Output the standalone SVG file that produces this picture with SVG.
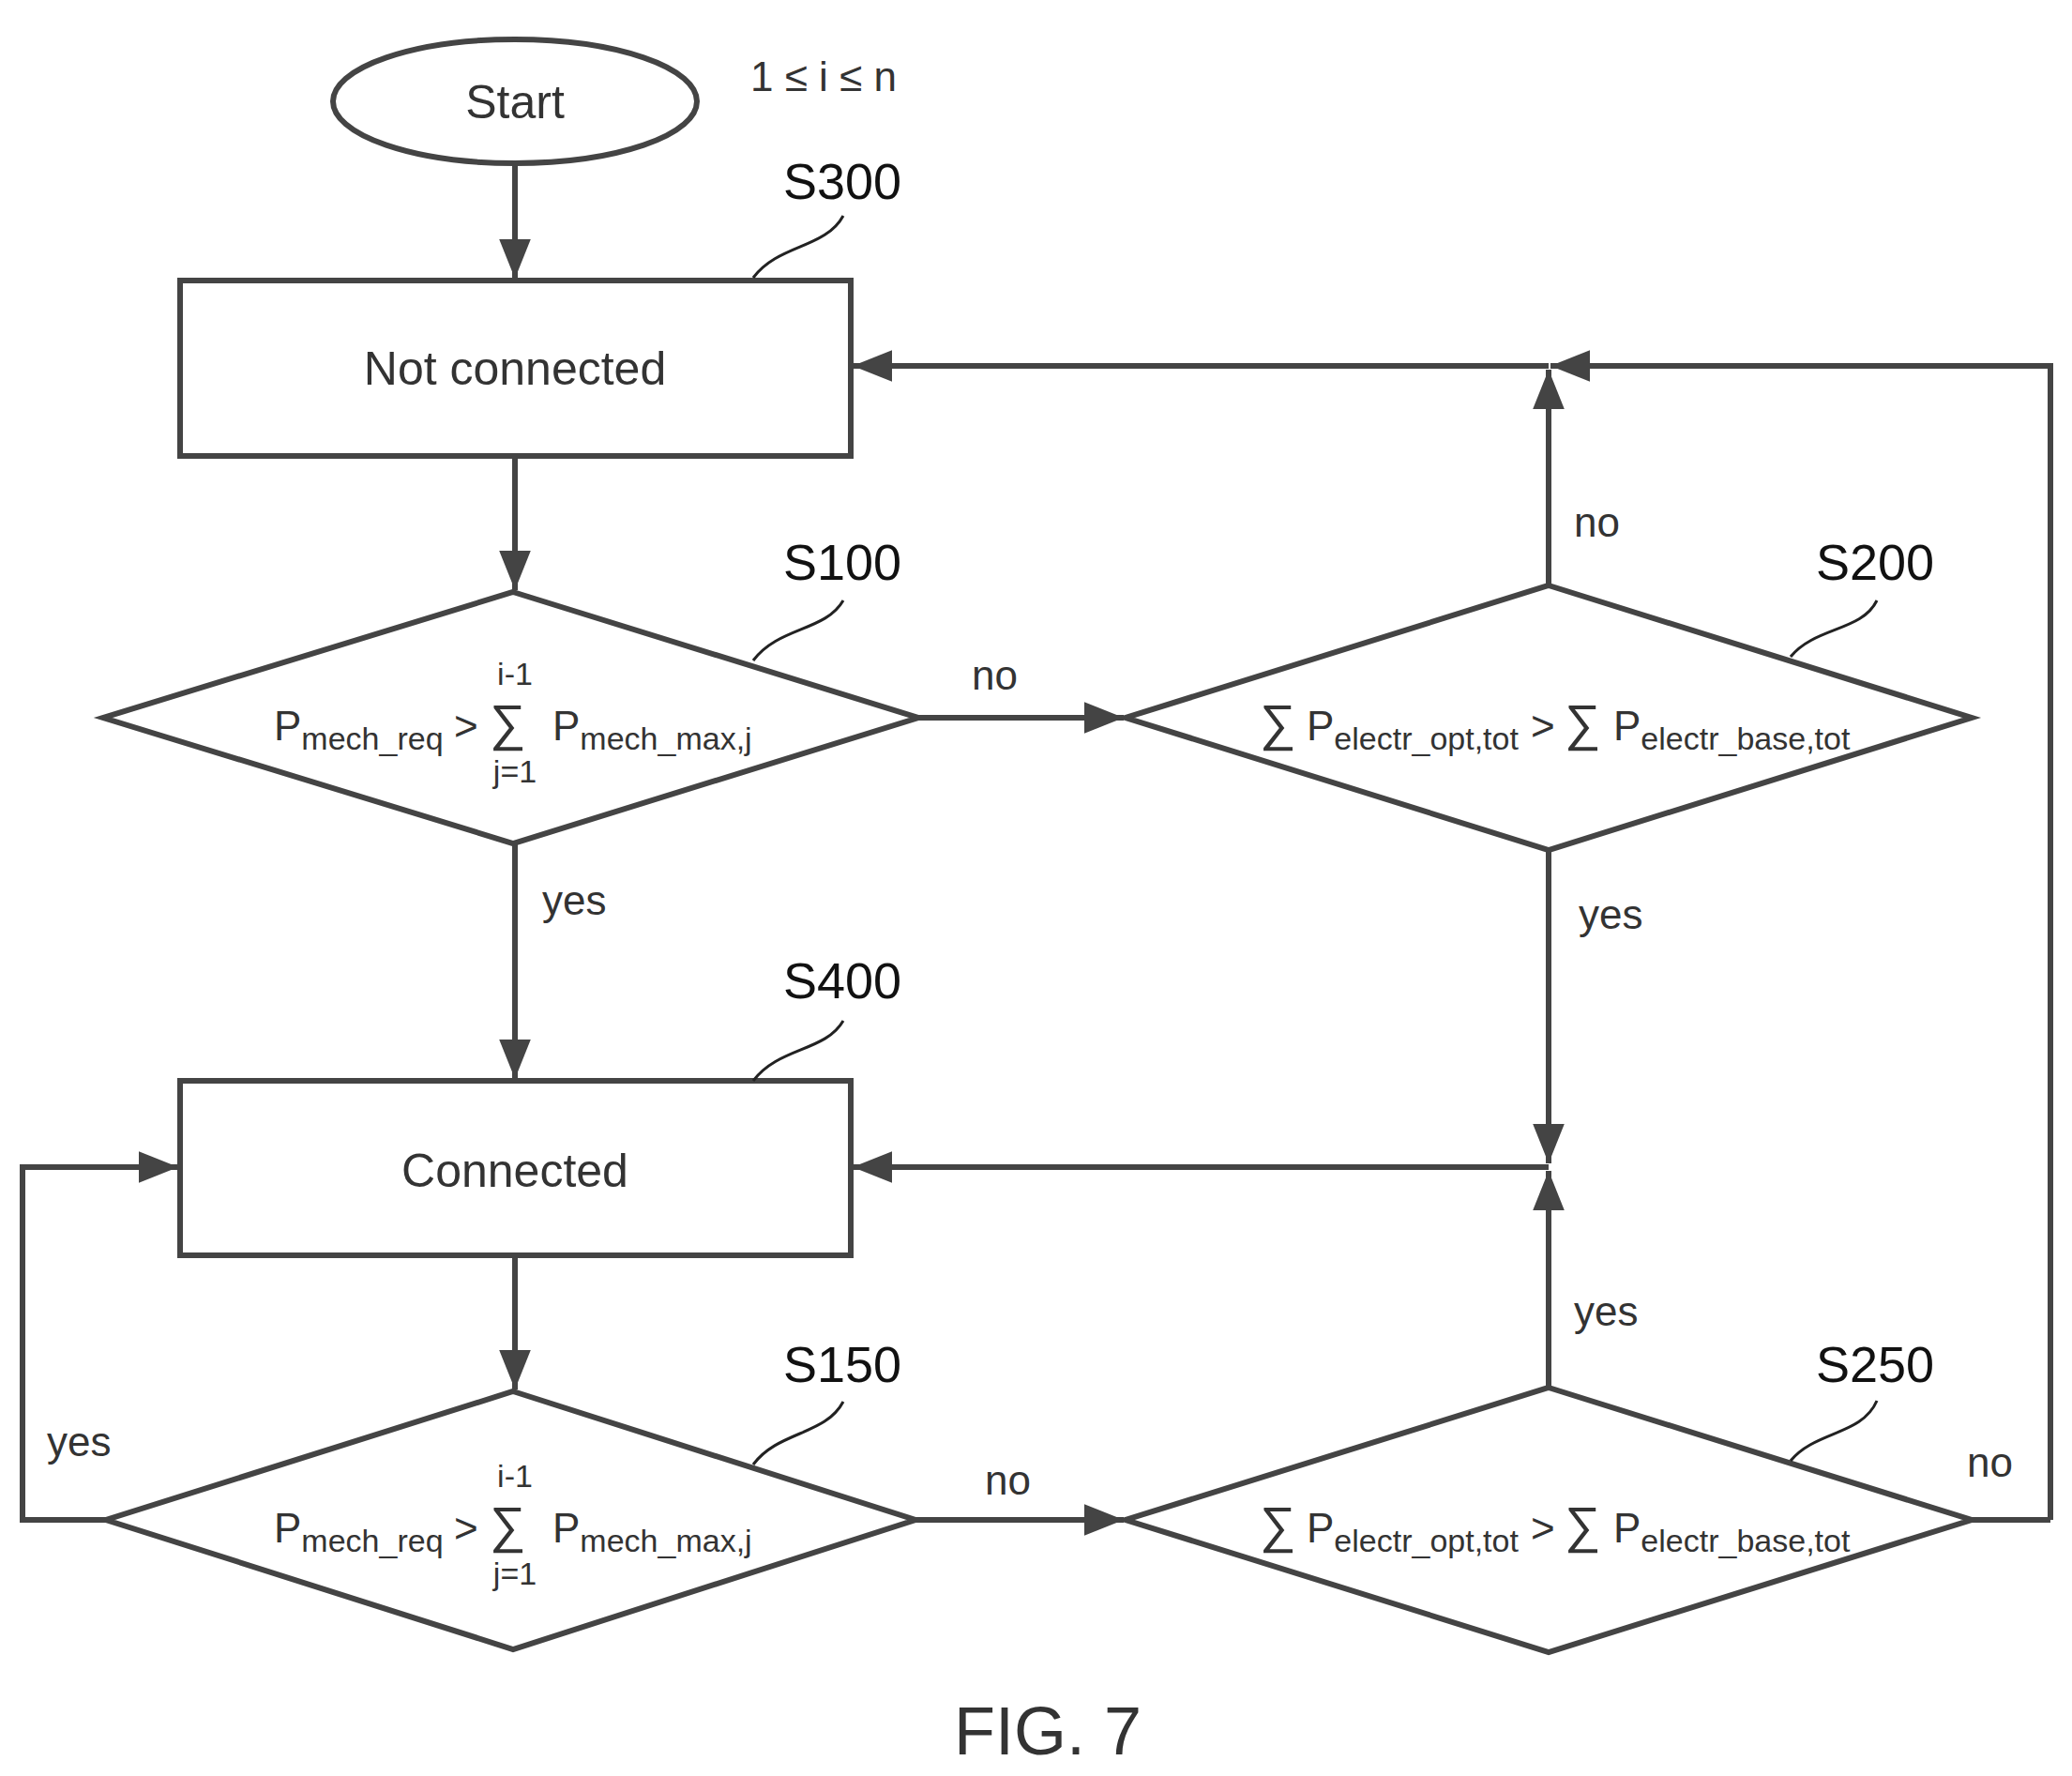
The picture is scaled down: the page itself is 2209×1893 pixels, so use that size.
<svg xmlns="http://www.w3.org/2000/svg" width="2209" height="1893" viewBox="0 0 2209 1893">
<defs>
<marker id="ah" viewBox="0 0 10 10" refX="10" refY="5" markerWidth="7" markerHeight="7" markerUnits="strokeWidth" orient="auto">
<path d="M0,1 L10,5 L0,9 Z" fill="#444"/>
</marker>
<style>
.s{fill:none;stroke:#444;stroke-width:6}
.c{fill:none;stroke:#444;stroke-width:6}
.l{fill:none;stroke:#222;stroke-width:3}
text{font-family:"Liberation Sans",Arial,sans-serif;fill:#333}
.t{font-size:50px;text-anchor:middle}
.lab{font-size:54px;fill:#111}
.yn{font-size:44px}
.f{font-size:44px}
.sub{font-size:34px}
.sg{font-size:54px}
.lim{font-size:34px;text-anchor:middle}
</style>
</defs>
<rect width="2209" height="1893" fill="#fff"/>
<g id="start"><ellipse class="s" cx="549" cy="108" rx="194" ry="66"/><text class="t" x="549" y="126">Start</text></g>
<text x="800" y="97" style="font-size:44px">1 ≤ i ≤ n</text>
<g id="S300"><rect class="s" x="192" y="299" width="715" height="187"/><text class="t" x="549" y="410">Not connected</text>
<text class="lab" x="835" y="212">S300</text><path class="l" d="M803,296 C830,260 880,265 899,230"/></g>
<g id="S100"><polygon class="s" points="547,631 979,765 547,899 110,765"/>
<text class="lab" x="835" y="618">S100</text><path class="l" d="M803,704 C830,668 880,673 899,640"/>
<text class="f" x="292" y="789">P<tspan class="sub" dy="10">mech_req</tspan><tspan dy="-10" x="484">&gt;</tspan><tspan class="sg" x="522">∑</tspan><tspan x="589">P</tspan><tspan class="sub" dy="10">mech_max,j</tspan></text>
<text class="lim" x="549" y="730">i-1</text><text class="lim" x="549" y="834">j=1</text></g>
<g id="S200"><polygon class="s" points="1651,624 2102,765 1651,906 1200,765"/>
<text class="lab" x="1936" y="618">S200</text><path class="l" d="M1909,700 C1935,668 1985,673 2001,640"/>
<text class="f" x="1343" y="789"><tspan class="sg">∑</tspan><tspan x="1393">P</tspan><tspan class="sub" dy="10">electr_opt,tot</tspan><tspan dy="-10" x="1632">&gt;</tspan><tspan class="sg" x="1668">∑</tspan><tspan x="1720">P</tspan><tspan class="sub" dy="10">electr_base,tot</tspan></text></g>
<g id="S400"><rect class="s" x="192" y="1152" width="715" height="186"/><text class="t" x="549" y="1265">Connected</text>
<text class="lab" x="835" y="1064">S400</text><path class="l" d="M803,1152 C830,1116 880,1121 899,1088"/></g>
<g id="S150"><polygon class="s" points="547,1483 976,1620 547,1758 113,1620"/>
<text class="lab" x="835" y="1473">S150</text><path class="l" d="M803,1561 C830,1525 880,1530 899,1494"/>
<text class="f" x="292" y="1644">P<tspan class="sub" dy="10">mech_req</tspan><tspan dy="-10" x="484">&gt;</tspan><tspan class="sg" x="522">∑</tspan><tspan x="589">P</tspan><tspan class="sub" dy="10">mech_max,j</tspan></text>
<text class="lim" x="549" y="1585">i-1</text><text class="lim" x="549" y="1689">j=1</text></g>
<g id="S250"><polygon class="s" points="1651,1479 2102,1620 1651,1761 1200,1620"/>
<text class="lab" x="1936" y="1473">S250</text><path class="l" d="M1909,1557 C1935,1525 1985,1530 2001,1493"/>
<text class="f" x="1343" y="1644"><tspan class="sg">∑</tspan><tspan x="1393">P</tspan><tspan class="sub" dy="10">electr_opt,tot</tspan><tspan dy="-10" x="1632">&gt;</tspan><tspan class="sg" x="1668">∑</tspan><tspan x="1720">P</tspan><tspan class="sub" dy="10">electr_base,tot</tspan></text></g>
<g id="connectors">
<path class="c" d="M549,176 V297" marker-end="url(#ah)"/>
<path class="c" d="M549,486 V629" marker-end="url(#ah)"/>
<path class="c" d="M979,765 H1198" marker-end="url(#ah)"/>
<path class="c" d="M1651,624 V394" marker-end="url(#ah)"/>
<path class="c" d="M1651,390 H909" marker-end="url(#ah)"/>
<path class="c" d="M2186,1620 V390 H1653" marker-end="url(#ah)"/>
<path class="c" d="M2102,1620 H2186"/>
<path class="c" d="M1651,906 V1240" marker-end="url(#ah)"/>
<path class="c" d="M1651,1244 H909" marker-end="url(#ah)"/>
<path class="c" d="M1651,1479 V1248" marker-end="url(#ah)"/>
<path class="c" d="M549,899 V1150" marker-end="url(#ah)"/>
<path class="c" d="M549,1338 V1481" marker-end="url(#ah)"/>
<path class="c" d="M976,1620 H1198" marker-end="url(#ah)"/>
<path class="c" d="M113,1620 H24 V1244 H190" marker-end="url(#ah)"/>
</g>
<text class="yn" x="1036" y="735">no</text>
<text class="yn" x="1678" y="572">no</text>
<text class="yn" x="578" y="975">yes</text>
<text class="yn" x="1683" y="990">yes</text>
<text class="yn" x="1678" y="1413">yes</text>
<text class="yn" x="1050" y="1593">no</text>
<text class="yn" x="50" y="1552">yes</text>
<text class="yn" x="2097" y="1574">no</text>
<text x="1117" y="1870" style="font-size:72px;text-anchor:middle">FIG. 7</text>
</svg>
